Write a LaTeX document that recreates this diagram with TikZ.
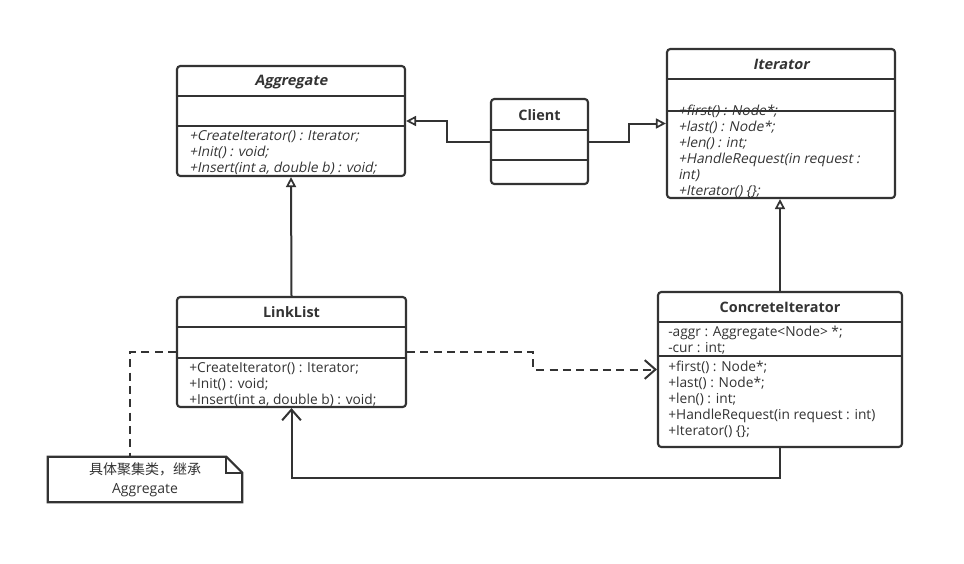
\documentclass[tikz,border=0pt]{standalone}
\usepackage{fontspec}
\setmainfont{Open Sans}
\newfontfamily\obl{Open Sans}[FakeSlant=0.2]
\newfontfamily\cjk{Noto Sans CJK SC}
\usetikzlibrary{arrows.meta,calc}
\definecolor{ink}{HTML}{333333}
\tikzset{
  classbox/.style={draw=ink, line width=1.6pt, rounded corners=2.5pt, inner sep=0pt},
  sepline/.style={draw=ink, line width=1.5pt},
  ctitle/.style={text=ink, font=\fontsize{10.8}{12}\selectfont\bfseries, inner sep=0pt},
  members/.style={text=ink, font=\fontsize{10.3}{12}\selectfont, align=left, anchor=west, inner sep=0pt},
  conn/.style={draw=ink, line width=1.5pt, line join=miter},
  inherit/.style={conn, -{Triangle[open, length=7.5pt, width=7.5pt, line width=1.3pt]}},
  assoc/.style={conn, -{Straight Barb[length=8pt, width=14pt, line width=1.5pt]}},
  depend/.style={conn, dash pattern=on 6pt off 4pt, -{Straight Barb[length=8pt, width=14pt, line width=1.5pt]}},
  notelink/.style={conn, dash pattern=on 6pt off 4pt},
}
\begin{document}
\begin{tikzpicture}[x=0.75pt, y=-0.75pt]
\useasboundingbox[fill=white] (0,0) rectangle (964,564);

% Aggregate
\node[classbox, minimum width=171pt, minimum height=82.5pt] (Aggregate) at (291,121) {};
\draw[sepline] (Aggregate.west |- 0,96) -- (Aggregate.east |- 0,96);
\draw[sepline] (Aggregate.west |- 0,126) -- (Aggregate.east |- 0,126);
\node[ctitle] (AggT) at (291,82) {\obl\bfseries Aggregate};
\node[members] (AggM) at (189,153) {\obl +CreateIterator() : Iterator;\\ \obl +Init() : void;\\ \obl +Insert(int a, double b) : void;};

% Iterator
\node[classbox, minimum width=171pt, minimum height=111.75pt] (Iterator) at (781,123.5) {};
\draw[sepline] (Iterator.west |- 0,79) -- (Iterator.east |- 0,79);
\draw[sepline] (Iterator.west |- 0,111) -- (Iterator.east |- 0,111);
\node[ctitle] (ItT) at (781,64) {\obl\bfseries Iterator};
\node[members] (ItM) at (678,151.5) {\obl +first() : Node*;\\ \obl +last() : Node*;\\ \obl +len() : int;\\ \obl +HandleRequest(in request :\\ \obl int)\\ \obl +Iterator() \{\};};

% Client
\node[classbox, minimum width=72.75pt, minimum height=63.75pt] (Client) at (539.5,141.5) {};
\draw[sepline] (Client.west |- 0,130) -- (Client.east |- 0,130);
\draw[sepline] (Client.west |- 0,160) -- (Client.east |- 0,160);
\node[ctitle] (ClT) at (539.5,115) {Client};

% LinkList
\node[classbox, minimum width=171.75pt, minimum height=82.5pt] (LinkList) at (291.5,352) {};
\draw[sepline] (LinkList.west |- 0,327) -- (LinkList.east |- 0,327);
\draw[sepline] (LinkList.west |- 0,358) -- (LinkList.east |- 0,358);
\node[ctitle] (LLT) at (291.5,312) {LinkList};
\node[members] (LLM) at (189,384.5) {+CreateIterator() : Iterator;\\ +Init() : void;\\ +Insert(int a, double b) : void;};

% ConcreteIterator
\node[classbox, minimum width=183pt, minimum height=116.25pt] (CI) at (780,369.5) {};
\draw[sepline] (CI.west |- 0,322) -- (CI.east |- 0,322);
\draw[sepline] (CI.west |- 0,356) -- (CI.east |- 0,356);
\node[ctitle] (CIT) at (780,307.5) {ConcreteIterator};
\node[members] (CIA) at (668,340) {-aggr : Aggregate<Node> *;\\ -cur : int;};
\node[members] (CIM) at (668,399.5) {+first() : Node*;\\ +last() : Node*;\\ +len() : int;\\ +HandleRequest(in request : int)\\ +Iterator() \{\};};

% Note
\node[minimum width=145.5pt, minimum height=33.75pt, inner sep=0pt] (Note) at (145,479.5) {};
\draw[conn, line width=1.6pt] (Note.north west) -- ([xshift=-12pt]Note.north east) -- ([yshift=-12pt]Note.north east) -- (Note.south east) -- (Note.south west) -- cycle;
\draw[conn, line width=1.3pt] ([xshift=-12pt]Note.north east) -- ([xshift=-12pt,yshift=-12pt]Note.north east) -- ([yshift=-12pt]Note.north east);
\node[text=ink, font=\fontsize{10.5}{14}\selectfont, align=center, inner sep=0pt] (NoteT) at (145,480) {{\cjk 具体聚集类，继承}\\Aggregate};

% connectors
\draw[inherit] (Client.west) -- ++(-43,0) |- (Aggregate.east);
\draw[inherit] (Client.east) -- ++(40,0) |- (Iterator.west);
\draw[inherit] (LinkList.north) -- (Aggregate.south);
\draw[inherit] (CI.north) -- (CI.north |- Iterator.south);
\draw[assoc] (CI.south) -- ++(0,30) -| (LinkList.south);
\draw[depend] (LinkList.east) -- ++(126,0) |- (CI.west);
\draw[notelink] (LinkList.west) -| ([xshift=-11.25pt]Note.north);
\end{tikzpicture}
\end{document}
